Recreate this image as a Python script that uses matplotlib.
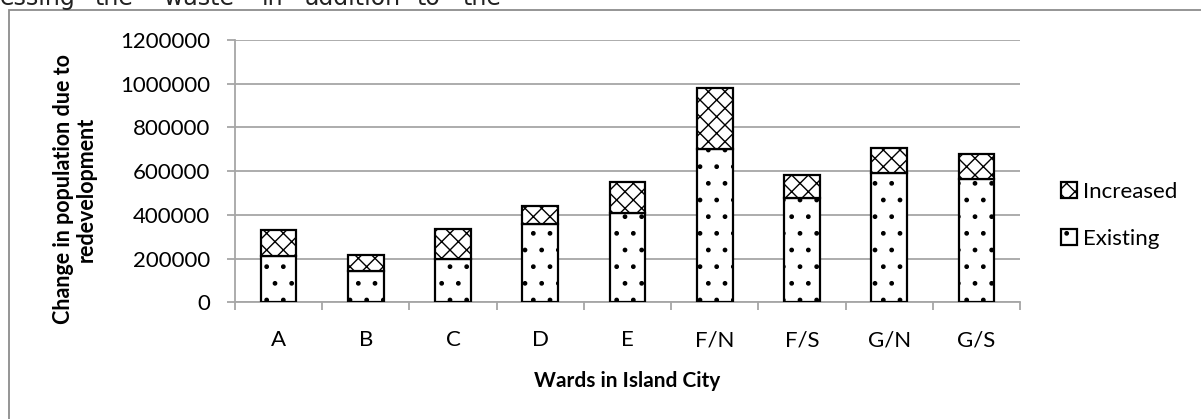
import numpy as np
import matplotlib
matplotlib.use("Agg")
import matplotlib.pyplot as plt
from matplotlib.patches import Rectangle

# ---- data ----
wards = ["A", "B", "C", "D", "E", "F/N", "F/S", "G/N", "G/S"]
existing = [210000, 142000, 200000, 360000, 408000, 702000, 476000, 590000, 563000]
increased = [121000, 74000, 137000, 80000, 144000, 280000, 106000, 116000, 116000]
yticks = [0, 200000, 400000, 600000, 800000, 1000000, 1200000]
doc_words = ["essing", "the", "waste", "in", "addition", "to", "the"]
doc_word_x = [0, 94, 164, 262, 305, 416, 462]

W, H = 1201, 419
plt.rcParams['font.family'] = ['Lato', 'DejaVu Sans']
plt.rcParams['hatch.linewidth'] = 1.0

fig = plt.figure(figsize=(W / 100, H / 100), dpi=100)

def fx(px):
    return px / W

def fy(py):
    return 1 - py / H

# cut-off document text at the top
for wtxt, wx in zip(doc_words, doc_word_x):
    fig.text(fx(wx), fy(5), wtxt, fontsize=17, family=['DejaVu Sans'],
             ha='left', va='baseline', color='#222222')

# outer chart border (extends past right/bottom edge)
fig.add_artist(Rectangle((fx(8.5), fy(430)), 1.2, fy(10) - fy(430),
                         transform=fig.transFigure, fill=False,
                         edgecolor='#8c8c8c', linewidth=1.3))

ax = fig.add_axes([fx(235), fy(302.3), fx(1020) - fx(235), fy(40) - fy(302.3)])
x = np.arange(len(wards))
bw = 0.41
grid_c = '#a6a6a6'

b1 = ax.bar(x, existing, bw, color='white', edgecolor='black', hatch='.',
            linewidth=1.6, label='Existing', zorder=3)
b2 = ax.bar(x, increased, bw, bottom=existing, color='white', edgecolor='black',
            hatch='xx', linewidth=1.6, label='Increased', zorder=3)

ax.set_xlim(-0.5, len(wards) - 0.5)
ax.set_ylim(0, 1200000)
ax.set_yticks(yticks)
ax.set_yticklabels([str(v) for v in yticks])
ax.yaxis.grid(True, color=grid_c, linewidth=1.3, zorder=0)
ax.set_axisbelow(True)
for s in ['top', 'right']:
    ax.spines[s].set_visible(False)
for s in ['left', 'bottom']:
    ax.spines[s].set_color(grid_c)
    ax.spines[s].set_linewidth(1.3)

ax.set_xticks(x)
ax.set_xticklabels(wards)
ax.set_xticks(np.arange(-0.5, len(wards)), minor=True)
ax.tick_params(axis='x', which='major', length=0, pad=20, labelsize=16)
ax.tick_params(axis='x', which='minor', length=6, color=grid_c, width=1.3)
ax.tick_params(axis='y', length=6, color=grid_c, width=1.3, pad=12, labelsize=16)

fig.text(fx(75), fy(189), "Change in population due to\nredevelopment", rotation=90,
         ha='center', va='center', multialignment='center', fontsize=15.5,
         fontweight='bold', linespacing=1.1)
fig.text(fx(627), fy(381), "Wards in Island City", ha='center', va='center',
         fontsize=15, fontweight='bold')

fig.legend(handles=[b2, b1], labels=['Increased', 'Existing'],
           loc='upper left', bbox_to_anchor=(fx(1061), fy(182)), frameon=False,
           fontsize=16, handlelength=0.7, handleheight=0.7, handletextpad=0.3,
           labelspacing=1.2, borderpad=0, borderaxespad=0)

fig.savefig("out.png", dpi=100)
